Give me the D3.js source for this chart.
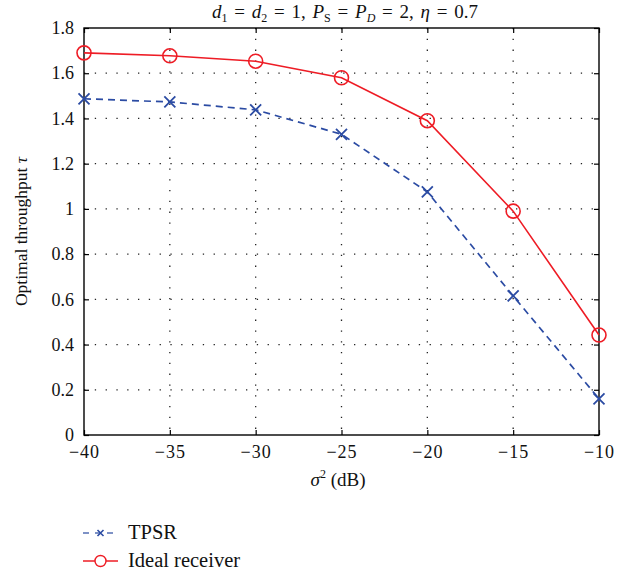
<!DOCTYPE html>
<html><head><meta charset="utf-8">
<script src="https://cdn.jsdelivr.net/npm/d3@7"></script>
<style>body{margin:0;background:#fff}svg{display:block}text{font-family:"Liberation Serif","DejaVu Serif",serif}</style>
</head><body><svg id="c" width="633" height="574"></svg>
<script>
const sigma = [-40, -35, -30, -25, -20, -15, -10];
const tpsr = [1.487, 1.473, 1.438, 1.33, 1.075, 0.615, 0.16];
const ideal = [1.69, 1.677, 1.653, 1.58, 1.39, 0.99, 0.442];
const xTicks = [-40, -35, -30, -25, -20, -15, -10];
const yTicks = [0, 0.2, 0.4, 0.6, 0.8, 1, 1.2, 1.4, 1.6, 1.8];
const seriesNames = ["TPSR", "Ideal receiver"];

const svg = d3.select("#c");
const L = 84, R = 599, T = 28, B = 435;
const x = d3.scaleLinear().domain([-40, -10]).range([L, R]);
const y = d3.scaleLinear().domain([0, 1.8]).range([B, T]);
const blue = "#2b4ba3", red = "#ee1c25";

// grid
const g = svg.append("g");
g.selectAll(".gx").data(xTicks.slice(1, -1)).enter().append("line")
  .attr("x1", d => x(d)).attr("x2", d => x(d)).attr("y1", T).attr("y2", B)
  .attr("stroke", "#222").attr("stroke-width", 1.3).attr("stroke-dasharray", "1.3,9.5");
g.selectAll(".gy").data(yTicks.slice(1, -1)).enter().append("line")
  .attr("y1", d => y(d)).attr("y2", d => y(d)).attr("x1", L).attr("x2", R)
  .attr("stroke", "#222").attr("stroke-width", 1.3).attr("stroke-dasharray", "1.3,9.5");

// axes
const fmt = d => d3.format("")(d).replace("-", "\u2212");
const ax = svg.append("g").attr("transform", `translate(0,${B})`)
  .call(d3.axisBottom(x).tickValues(xTicks).tickSize(-5).tickPadding(10).tickFormat(fmt));
const axT = svg.append("g").attr("transform", `translate(0,${T})`)
  .call(d3.axisTop(x).tickValues(xTicks).tickSize(-5).tickFormat(""));
const ay = svg.append("g").attr("transform", `translate(${L},0)`)
  .call(d3.axisLeft(y).tickValues(yTicks).tickSize(-5).tickPadding(10).tickFormat(d => d3.format("")(d)));
const ayR = svg.append("g").attr("transform", `translate(${R},0)`)
  .call(d3.axisRight(y).tickValues(yTicks).tickSize(-5).tickFormat(""));
[ax, axT, ay, ayR].forEach(a => {
  a.select(".domain").remove();
  a.selectAll("line").attr("stroke", "#000").attr("stroke-width", 1.2);
  a.selectAll("text").attr("font-size", 18).attr("fill", "#111");
});
ax.selectAll("text").attr("y", 23).attr("dy", 0).attr("letter-spacing", 1);
svg.append("rect").attr("x", L).attr("y", T).attr("width", R - L).attr("height", B - T)
  .attr("fill", "none").attr("stroke", "#000").attr("stroke-width", 1.4);

// lines
const line = d3.line().x(d => x(d[0])).y(d => y(d[1]));
const dT = sigma.map((s, i) => [s, tpsr[i]]);
const dI = sigma.map((s, i) => [s, ideal[i]]);
svg.append("path").attr("d", line(dT)).attr("fill", "none").attr("stroke", blue)
  .attr("stroke-width", 1.7).attr("stroke-dasharray", "7,5");
svg.append("path").attr("d", line(dI)).attr("fill", "none").attr("stroke", red)
  .attr("stroke-width", 1.6);
function cross(sel, cx, cy, s, col, w) {
  sel.append("path").attr("d", `M${cx - s},${cy - s}L${cx + s},${cy + s}M${cx - s},${cy + s}L${cx + s},${cy - s}`)
    .attr("stroke", col).attr("stroke-width", w).attr("fill", "none");
}
dT.forEach(d => cross(svg, x(d[0]), y(d[1]), 5.5, blue, 1.8));
svg.selectAll(".mc").data(dI).enter().append("circle")
  .attr("cx", d => x(d[0])).attr("cy", d => y(d[1])).attr("r", 7)
  .attr("fill", "none").attr("stroke", red).attr("stroke-width", 1.6);

// title
const title = svg.append("text").attr("x", 345).attr("y", 18).attr("text-anchor", "middle")
  .attr("font-size", 19).attr("fill", "#111").attr("word-spacing", 2);
title.append("tspan").attr("font-style", "italic").text("d");
title.append("tspan").attr("font-size", 12).attr("dy", 4).text("1");
title.append("tspan").attr("dy", -4).text(" = ");
title.append("tspan").attr("font-style", "italic").text("d");
title.append("tspan").attr("font-size", 12).attr("dy", 4).text("2");
title.append("tspan").attr("dy", -4).text(" = 1, ");
title.append("tspan").attr("font-style", "italic").text("P");
title.append("tspan").attr("font-size", 12).attr("dy", 4).text("S");
title.append("tspan").attr("dy", -4).text(" = ");
title.append("tspan").attr("font-style", "italic").text("P");
title.append("tspan").attr("font-size", 12).attr("font-style", "italic").attr("dy", 4).text("D");
title.append("tspan").attr("dy", -4).text(" = 2, ");
title.append("tspan").attr("font-style", "italic").text("\u03b7");
title.append("tspan").text(" = 0.7");

// x label
const xl = svg.append("text").attr("x", 338).attr("y", 486).attr("text-anchor", "middle")
  .attr("font-size", 19).attr("fill", "#111");
xl.append("tspan").attr("font-style", "italic").text("\u03c3");
xl.append("tspan").attr("font-size", 12).attr("dy", -8).text("2");
xl.append("tspan").attr("dy", 8).text(" (dB)");

// y label
const yl = svg.append("text").attr("transform", `translate(27,${(T + B) / 2}) rotate(-90)`)
  .attr("text-anchor", "middle").attr("font-size", 17.5).attr("fill", "#111");
yl.append("tspan").text("Optimal throughput ");
yl.append("tspan").attr("font-style", "italic").text("\u03c4");

// legend
const lg = svg.append("g");
const ly = [533, 561];
lg.append("line").attr("x1", 83).attr("x2", 118).attr("y1", ly[0]).attr("y2", ly[0])
  .attr("stroke", blue).attr("stroke-width", 1.4).attr("stroke-dasharray", "6,6").attr("opacity", 0.8);
cross(lg, 100.5, ly[0], 3, blue, 1.6);
lg.append("line").attr("x1", 83).attr("x2", 118).attr("y1", ly[1]).attr("y2", ly[1])
  .attr("stroke", red).attr("stroke-width", 1.4);
lg.append("circle").attr("cx", 100.5).attr("cy", ly[1]).attr("r", 5.5).attr("fill", "#fff")
  .attr("stroke", red).attr("stroke-width", 1.4);
lg.selectAll(".lt").data(seriesNames).enter().append("text")
  .attr("x", 128).attr("y", (d, i) => ly[i] + 6).attr("font-size", 20.5).attr("fill", "#111").text(d => d);
</script></body></html>
